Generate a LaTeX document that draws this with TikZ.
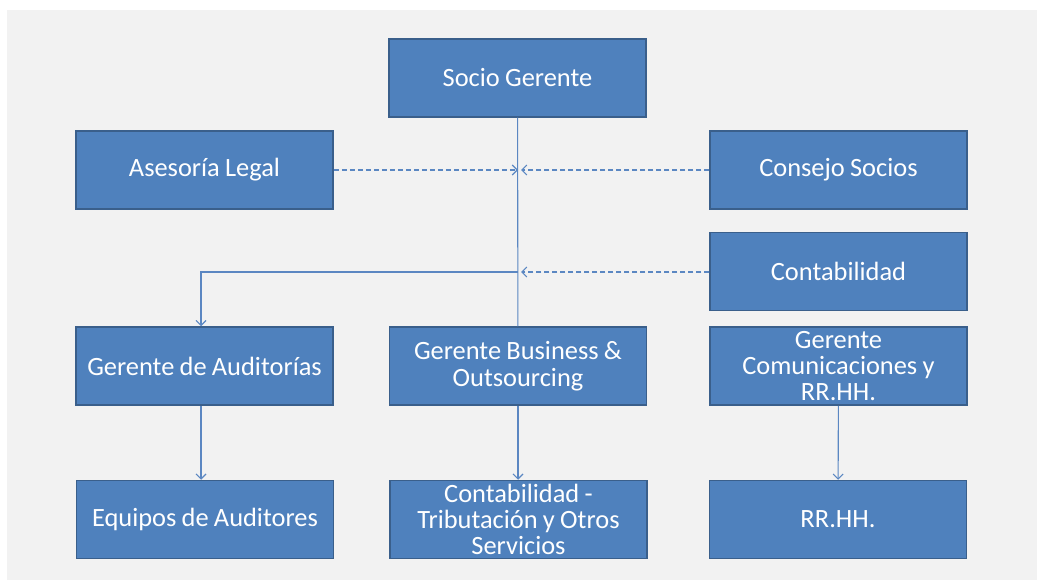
\documentclass[tikz,border=0pt]{standalone}
\usepackage{fontspec}
\setmainfont{Carlito}
\usetikzlibrary{arrows.meta}
\definecolor{boxfill}{HTML}{4F81BD}
\definecolor{boxline}{HTML}{3A5F8B}
\definecolor{conn}{HTML}{5B87C2}
\definecolor{bg}{HTML}{F2F2F2}
\begin{document}
\begin{tikzpicture}
  [x=1bp,y=-1bp,>={Straight Barb[length=5bp,width=10bp]},
   every node/.style={rectangle,draw=boxline,line width=1.5bp,fill=boxfill,
     text=white,minimum width=257bp,minimum height=78bp,inner sep=0pt,
     text width=250bp,align=center,font=\fontsize{26.5}{26.5}\selectfont,
     execute at begin node={\spaceskip=0.2em\relax}},
   link/.style={draw=conn,line width=1.1bp},
   dlink/.style={link,dash pattern=on 5bp off 3bp}]
  \useasboundingbox (0,0) rectangle (1037,580);
  \fill[bg] (7,10) rectangle (1037,580);

  \node (socio) at (517.5,78) {Socio Gerente};
  \node (legal) at (204.5,170) {Asesoría Legal};
  \node (consejo) at (838.5,170) {Consejo Socios};
  \node (conta) at (838.5,271.5) {Contabilidad};
  \node (audit) at (204.5,366) {Gerente de Auditorías};
  \node (busin) at (518,366) {Gerente Business \&\\Outsourcing};
  \node (comun) at (838.5,366) {Gerente\\Comunicaciones y\\RR.HH.};
  \node (equip) at (205,519.5) {Equipos de Auditores};
  \node (tribu) at (518.5,519.5) {Contabilidad -\\Tributación y Otros\\Servicios};
  \node (rrhh) at (838,519.5) {RR.HH.};

  \coordinate (j1) at (518,170);
  \coordinate (j2) at (518,272);
  \coordinate (k1) at (521,170);
  \coordinate (k2) at (521,272);
  \coordinate (c1) at (201,272);

  \draw[link] (socio) -- (busin);
  \draw[link,->] (j2) -- (c1) -- (audit.north -| c1);
  \draw[dlink,->] (legal) -- (j1);
  \draw[dlink,->] (consejo) -- (k1);
  \draw[dlink,->] (conta.west |- k2) -- (k2);
  \draw[link,->] (audit.south -| c1) -- (equip.north -| c1);
  \draw[link,->] (busin) -- (tribu.north -| busin);
  \draw[link,->] (comun) -- (rrhh);

\end{tikzpicture}
\end{document}
